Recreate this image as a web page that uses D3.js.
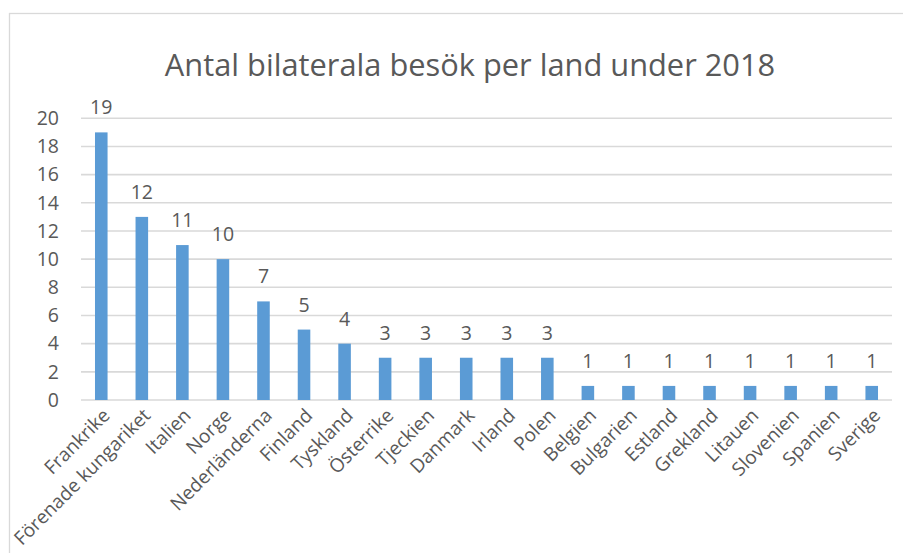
<!DOCTYPE html>
<html>
<head>
<meta charset="utf-8">
<script src="https://cdn.jsdelivr.net/npm/d3@7/dist/d3.min.js"></script>
<style>
  html, body { margin: 0; padding: 0; background: #fff; }
  svg { display: block; }
  text { font-family: "Open Sans", sans-serif; fill: #595959; }
</style>
</head>
<body>
<svg id="chart" width="903" height="553"></svg>
<script>
const categories = ["Frankrike", "Förenade kungariket", "Italien", "Norge", "Nederländerna", "Finland", "Tyskland", "Österrike", "Tjeckien", "Danmark", "Irland", "Polen", "Belgien", "Bulgarien", "Estland", "Grekland", "Litauen", "Slovenien", "Spanien", "Sverige"];
const barValues = [19, 13, 11, 10, 7, 5, 4, 3, 3, 3, 3, 3, 1, 1, 1, 1, 1, 1, 1, 1];
const dataLabels = ["19", "12", "11", "10", "7", "5", "4", "3", "3", "3", "3", "3", "1", "1", "1", "1", "1", "1", "1", "1"];
const yTicks = [0, 2, 4, 6, 8, 10, 12, 14, 16, 18, 20];
const title = "Antal bilaterala besök per land under 2018";

const svg = d3.select("#chart");
const plot = { left: 81, right: 892, top: 118.3, bottom: 400 };

// chart border
svg.append("rect")
  .attr("x", 9.5).attr("y", 13.5)
  .attr("width", 920).attr("height", 580)
  .attr("fill", "none").attr("stroke", "#d9d9d9").attr("stroke-width", 1.3);

const x = d3.scaleBand().domain(categories).range([plot.left, plot.right]).paddingInner(0.69).paddingOuter(0.345);
const y = d3.scaleLinear().domain([0, 20]).range([plot.bottom, plot.top]);

// gridlines
svg.append("g").selectAll("line").data(yTicks).join("line")
  .attr("x1", plot.left).attr("x2", plot.right)
  .attr("y1", d => y(d)).attr("y2", d => y(d))
  .attr("stroke", "#d9d9d9").attr("stroke-width", 1.6);

// y axis labels
const yAxis = d3.axisLeft(y).tickValues(yTicks).tickSize(0).tickPadding(0);
const gy = svg.append("g").attr("transform", `translate(${plot.left - 22},0)`).call(yAxis);
gy.select(".domain").remove();
gy.selectAll("text").style("font-size", "19.5px").attr("fill", "#595959").style("font-family", "'Open Sans', sans-serif");

// bars
svg.append("g").selectAll("rect").data(categories).join("rect")
  .attr("x", d => x(d))
  .attr("width", x.bandwidth())
  .attr("y", (d, i) => y(barValues[i]))
  .attr("height", (d, i) => y(0) - y(barValues[i]))
  .attr("fill", "#5b9bd5");

// data labels
svg.append("g").selectAll("text").data(categories).join("text")
  .attr("x", d => x(d) + x.bandwidth() / 2)
  .attr("y", (d, i) => y(barValues[i]) - 18)
  .attr("text-anchor", "middle")
  .style("font-size", "19.5px")
  .text((d, i) => dataLabels[i]);

// x axis labels
const xAxis = d3.axisBottom(x).tickSize(0).tickPadding(0);
const gx = svg.append("g").attr("transform", `translate(0,${plot.bottom})`).call(xAxis);
gx.select(".domain").remove();
gx.selectAll("text")
  .style("font-size", "19px").attr("fill", "#595959").style("font-family", "'Open Sans', sans-serif")
  .attr("text-anchor", "end")
  .attr("y", 0).attr("dy", "0.35em")
  .attr("transform", "translate(5,12) rotate(-45)");

// title
svg.append("text")
  .attr("x", 470).attr("y", 76)
  .attr("text-anchor", "middle")
  .style("font-size", "30.8px")
  .text(title);
</script>
</body>
</html>
